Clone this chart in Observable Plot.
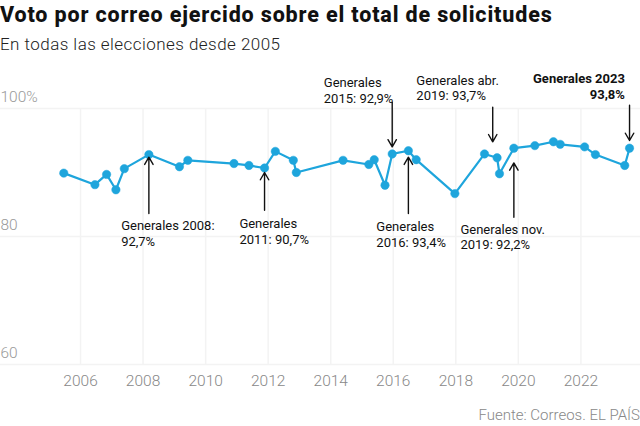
<!DOCTYPE html>
<html>
<head>
<meta charset="utf-8">
<script src="https://cdn.jsdelivr.net/npm/d3@7"></script>
<script src="https://cdn.jsdelivr.net/npm/@observablehq/plot@0.6"></script>
<style>
  html, body { margin: 0; padding: 0; background: #fff; }
  body { width: 640px; height: 426px; overflow: hidden; font-family: Roboto, "Noto Sans", sans-serif; }
  #title { height: 30px; line-height: 30px; font-size: 21.5px; font-weight: 800; color: #111; letter-spacing: 0.85px; white-space: nowrap; }
  #subtitle { height: 28px; line-height: 28px; padding-bottom: 4px; font-size: 17px; font-weight: 300; color: #222; letter-spacing: 0.45px; white-space: nowrap; }
  #caption { height: 26px; line-height: 30px; font-size: 15px; font-weight: 300; color: #888; text-align: right; white-space: nowrap; }
  #chart svg { display: block; }
</style>
</head>
<body>
<div id="title">Voto por correo ejercido sobre el total de solicitudes</div>
<div id="subtitle">En todas las elecciones desde 2005</div>
<div id="chart"></div>
<div id="caption">Fuente: Correos. EL PAÍS</div>
<script>
// Election dates and share of postal votes cast over requests (%)
const dates = [
  "2005-06-19","2006-06-18","2006-11-01","2007-02-18","2007-05-27","2008-03-09",
  "2009-03-01","2009-06-07","2010-11-28","2011-05-22","2011-11-20","2012-03-25",
  "2012-10-21","2012-11-25","2014-05-25","2015-03-22","2015-05-24","2015-09-27",
  "2015-12-20","2016-06-26","2016-09-25","2017-12-21","2018-12-02","2019-04-28",
  "2019-05-26","2019-11-10","2020-07-12","2021-02-14","2021-05-04","2022-02-13",
  "2022-06-19","2023-05-28","2023-07-23"
];
const values = [
  89.9, 88.1, 89.7, 87.3, 90.6, 92.8,
  90.9, 91.9, 91.4, 91.1, 90.7, 93.3,
  91.9, 90.0, 91.9, 91.25, 92.0, 88.0,
  92.9, 93.4, 92.0, 86.7, 92.9, 92.3,
  89.8, 93.8, 94.2, 94.8, 94.4, 94.0,
  92.8, 91.1, 93.8
];
const yTicks = [60, 80, 100];
const xTickYears = [2006, 2008, 2010, 2012, 2014, 2016, 2018, 2020, 2022];

// Annotations (positions in data units)
const annLabels = [
  "Generales 2008:\n92,7%",
  "Generales\n2011: 90,7%",
  "Generales\n2015: 92,9%",
  "Generales\n2016: 93,4%",
  "Generales abr.\n2019: 93,7%",
  "Generales nov.\n2019: 92,2%",
  "Generales 2023\n93,8%"
];
const annLabelDates = ["2007-04-20","2011-01-30","2013-10-12","2015-06-18","2016-09-27","2018-02-24","2023-05-30"];
const annLabelValues = [80.55, 80.9, 102.9, 80.4, 103.3, 80.0, 103.5];
const annBold = [false,false,false,false,false,false,true];
const arrowDates = ["2008-03-09","2011-11-20","2015-12-20","2016-06-26","2019-03-08","2019-11-10","2023-07-23"];
const arrowFrom = [83.6, 84.1, 101.0, 83.6, 100.2, 83.0, 100.5];
const arrowTo = [92.4, 90.0, 94.0, 92.4, 94.8, 91.5, 95.0];

const data = dates.map((d, i) => ({date: new Date(d), value: values[i]}));
const anns = annLabels.map((t, i) => ({
  text: t, date: new Date(annLabelDates[i]), value: annLabelValues[i], bold: annBold[i]
}));
const arrows = arrowDates.map((d, i) => ({date: new Date(d), y1: arrowFrom[i], y2: arrowTo[i]}));
const xTicks = xTickYears.map(y => new Date(Date.UTC(y, 0, 1)));

const blue = "#1ea5dc";

const chart = Plot.plot({
  width: 640,
  height: 338,
  marginTop: 46,
  marginBottom: 36,
  marginLeft: 0,
  marginRight: 0,
  style: {fontFamily: "Roboto, sans-serif", background: "#fff", overflow: "visible"},
  x: {type: "utc", domain: [new Date("2003-06-11"), new Date("2023-11-28")]},
  y: {domain: [60, 100]},
  marks: [
    Plot.gridX(xTicks, {stroke: "#f3f3f3", strokeOpacity: 1, strokeWidth: 1.5}),
    Plot.gridY(yTicks, {stroke: "#f3f3f3", strokeOpacity: 1, strokeWidth: 1.5}),
    Plot.axisX(xTicks, {tickSize: 0, tickPadding: 10, tickFormat: d3.utcFormat("%Y"), fontSize: 15.5, fontWeight: 300, fill: "#888", label: null}),
    Plot.axisY(yTicks, {anchor: "left", tickSize: 0, tickPadding: 0, textAnchor: "start", dy: -11, tickFormat: d => d === 100 ? "100%" : String(d), fontSize: 15.5, fontWeight: 300, fill: "#999", label: null}),
    Plot.line(data, {x: "date", y: "value", stroke: blue, strokeWidth: 2.2}),
    Plot.dot(data, {x: "date", y: "value", r: 4.2, fill: blue, stroke: blue, strokeWidth: 0.5}),
    Plot.arrow(arrows, {x: "date", y1: "y1", y2: "y2", stroke: "#111", strokeWidth: 1.4, headLength: 9}),
    Plot.text(anns.filter(a => !a.bold), {x: "date", y: "value", text: "text", textAnchor: "start", lineAnchor: "middle", lineHeight: 1.2, fontSize: 13, fill: "#111"}),
    Plot.text(anns.filter(a => a.bold), {x: "date", y: "value", text: "text", textAnchor: "end", lineAnchor: "middle", lineHeight: 1.2, fontSize: 13, fontWeight: 700, fill: "#111"})
  ]
});
document.getElementById("chart").appendChild(chart);
</script>
</body>
</html>
